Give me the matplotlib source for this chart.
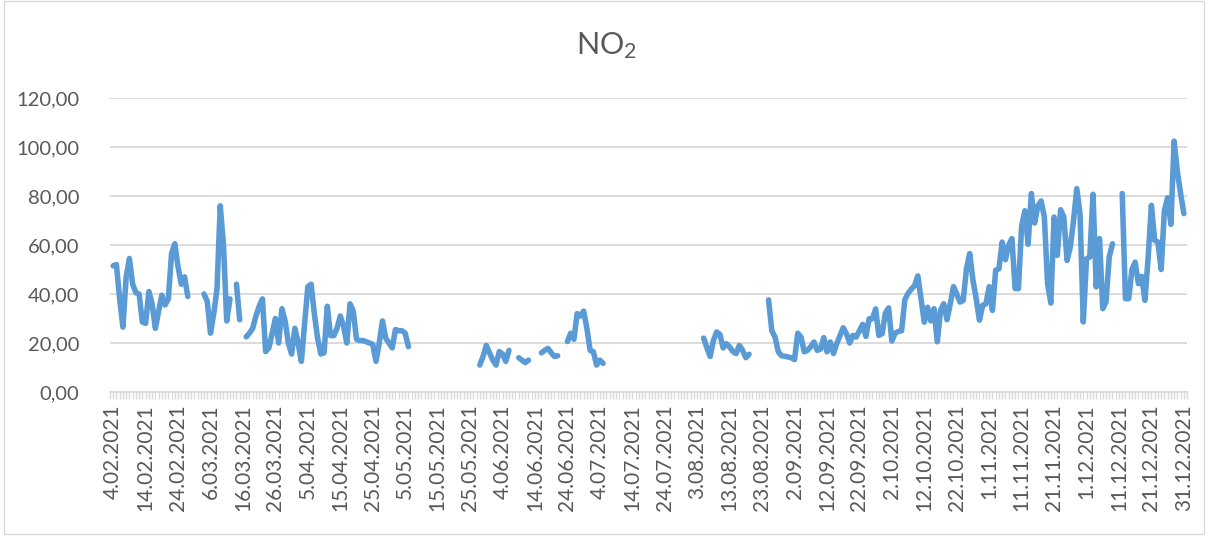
import numpy as np
import pandas as pd
import matplotlib
matplotlib.use('Agg')
from matplotlib import pyplot as plt
import matplotlib.dates as mdates
from matplotlib.patches import Rectangle

plt.rcParams['font.family'] = ['Lato', 'DejaVu Sans']
plt.rcParams['mathtext.default'] = 'regular'

nan = np.nan
# daily NO2 values, 4.02.2021 - 31.12.2021 (nan = no data)
feb = [51.5, 52, 38, 26.5, 47, 54.5, 44, 40.5, 40, 28.5, 28, 41, 36, 26, 33,
       39.5, 35.5, 38, 56.5, 60.5, 51, 44, 47, 39, nan]
mar = [nan, nan, nan, 40, 37, 24, 32, 42, 76, 60, 29, 38, nan, 44, 29.5, nan,
       22.5, 24, 26, 31, 35, 38, 16.5, 18, 24, 30, 20, 34, 29, 20, 15.5]
apr = [26, 20, 12.5, 28, 43, 44, 32, 22, 15.5, 16, 35, 23, 23, 26, 31, 27, 20,
       36, 33, 21.5, 21, 21, 20.5, 20, 19.5, 12.5, 20, 29, 22, 20]
may = [18, 25.5, 25, 25, 24, 18.5] + [nan] * 21 + [11, 14.5, 19, 16]
jun = [13, 11, 16.5, 15.5, 12.5, 17, nan, nan, 14, 13, 12, 13, nan, nan, nan,
       16, 17, 17.8, 16, 14.5, 14.8, nan, nan, 20.6, 24, 21.5, 32, 31, 33, 26]
jul = [17, 16.4, 11, 13, 11.7] + [nan] * 26
aug = [nan] * 4 + [22, 18, 14.5, 21, 24.5, 23.5, 18, 19.7, 18.4, 16.5, 15.7,
                   19, 17, 14, 15.4] + [nan] * 5 + [37.6, 25, 22.4, 16.4, 14.8,
                                                    14.6, 14.3]
sep = [14, 13.2, 24, 22.4, 16.4, 17, 18.5, 20.4, 17, 17.5, 22.2, 16.4, 20.4,
       15.7, 19.7, 23, 26.2, 23.8, 20, 23.1, 22.4, 25, 27.6, 22.7, 29.9, 29.9,
       33.9, 23.1, 23.8, 32.2]
oct_ = [34.3, 20.8, 24, 24.7, 25, 37.6, 40.3, 42, 43.4, 47.4, 38, 28.5, 34.6,
        29, 34, 20.5, 33.3, 36, 29.5, 36, 43, 40, 36.7, 37.4, 50.3, 56.5, 45.6,
        38, 29.3, 35.4, 36]
nov = [43, 33.3, 49.7, 50.3, 61.2, 54, 60, 62.6, 42.2, 42.2, 67.6, 74, 60.3,
       81, 69, 76, 78, 71.4, 44.2, 36.3, 71.4, 55.8, 74.4, 71.4, 53.7, 59.2,
       70, 83, 72.8, 28.6]
dec = [54.4, 55.1, 80.7, 42.9, 62.6, 34, 36.7, 55.1, 60.5, nan, nan, 81, 38.1,
       38.1, 50, 53, 44.2, 47.2, 37.4, 55, 76.2, 61.9, 61.2, 50, 74.1, 79.3,
       68.4, 102.4, 90, 81, 72.8]

values = feb + mar + apr + may + jun + jul + aug + sep + oct_ + nov + dec
dates = pd.date_range('2021-02-04', '2021-12-31', freq='D')
label_dates = dates[::10]

fig = plt.figure(figsize=(12.08, 5.38), dpi=100)
ax = fig.add_axes([0.091, 0.2714, 0.8917, 0.5464])

ax.plot(dates, values, color='#5B9BD5', lw=4,
        solid_capstyle='round', solid_joinstyle='round')

ax.set_ylim(0, 120)
ax.set_yticks(range(0, 121, 20))
ax.set_yticklabels([f'{v},00' for v in range(0, 121, 20)])
ax.set_xlim(dates[0] - pd.Timedelta(days=1), dates[-1] + pd.Timedelta(days=1))
ax.set_xticks(label_dates)
ax.set_xticklabels([f'{d.day}.{d.month:02d}.{d.year}' for d in label_dates],
                   rotation=90)
ax.xaxis.set_minor_locator(mdates.DayLocator())

ax.grid(axis='y', color='#D9D9D9', lw=1.3)
ax.set_axisbelow(True)
for s in ['top', 'right', 'left']:
    ax.spines[s].set_visible(False)
ax.spines['bottom'].set_color('#D9D9D9')
ax.spines['bottom'].set_linewidth(1.3)
ax.tick_params(axis='y', length=0, pad=22, labelsize=14.5, labelcolor='#595959')
ax.tick_params(axis='x', which='both', color='#D9D9D9', length=5, width=1,
               labelsize=15, labelcolor='#595959', pad=4)

fig.text(0.5025, 0.915, 'NO$_2$', ha='center', va='center', fontsize=22,
         color='#595959')
fig.patches.append(Rectangle((0.003, 0.008), 0.994, 0.99, transform=fig.transFigure,
                             fill=False, edgecolor='#D9D9D9', lw=1))

plt.savefig('out.png', dpi=100)
